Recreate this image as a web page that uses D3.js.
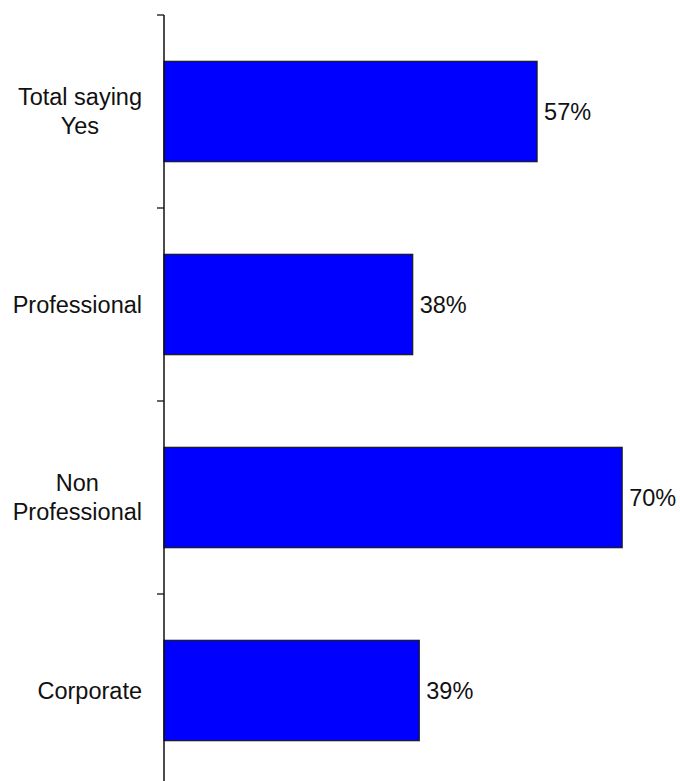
<!DOCTYPE html>
<html>
<head>
<meta charset="utf-8">
<script src="https://cdn.jsdelivr.net/npm/d3@7"></script>
<style>
  html, body { margin: 0; padding: 0; background: #fff; }
  svg { display: block; font-family: Arial, "Liberation Sans", sans-serif; }
</style>
</head>
<body>
<svg id="chart" width="680" height="781"></svg>
<script>
// Survey responses: share saying Yes, by group
const categories = ["Total saying\nYes", "Professional", "Non\nProfessional", "Corporate"];
const values = [57, 38, 70, 39];
const valueLabels = ["57%", "38%", "70%", "39%"];

const svg = d3.select("#chart");
const axisX = 164;
const plotTop = 15, step = 193;

const x = d3.scaleLinear().domain([0, 100]).range([axisX, axisX + 654.5]);
const y = d3.scaleBand()
  .domain(categories)
  .range([plotTop, plotTop + step * categories.length])
  .paddingInner(0.48)
  .paddingOuter(0.24);

// category boundary ticks
const tickYs = d3.range(categories.length + 1).map(i => plotTop + i * step);
svg.append("g").selectAll("line")
  .data(tickYs)
  .join("line")
  .attr("x1", axisX - 7).attr("x2", axisX)
  .attr("y1", d => d).attr("y2", d => d)
  .attr("stroke", "#333").attr("stroke-width", 1.5);

// bars
svg.append("g").selectAll("rect")
  .data(categories)
  .join("rect")
  .attr("x", x(0))
  .attr("y", d => y(d))
  .attr("width", (d, i) => x(values[i]) - x(0))
  .attr("height", y.bandwidth())
  .attr("fill", "#0000ff")
  .attr("stroke", "#1a1a1a")
  .attr("stroke-width", 1.2);

// vertical axis line
svg.append("line")
  .attr("x1", axisX).attr("x2", axisX)
  .attr("y1", plotTop).attr("y2", 781)
  .attr("stroke", "#111").attr("stroke-width", 1.5);

// value labels
svg.append("g").selectAll("text")
  .data(categories)
  .join("text")
  .attr("x", (d, i) => x(values[i]) + 7)
  .attr("y", d => y(d) + y.bandwidth() / 2 + 8)
  .attr("font-size", 23.5)
  .attr("fill", "#111")
  .text((d, i) => valueLabels[i]);

// category labels, right-aligned block with centered lines
const lineH = 29;
const labelRight = 142;
categories.forEach(c => {
  const lines = c.split("\n");
  const cy = y(c) + y.bandwidth() / 2;
  const g = svg.append("g");
  const texts = lines.map((ln, j) => g.append("text")
    .attr("font-size", 23.5)
    .attr("fill", "#111")
    .attr("text-anchor", "middle")
    .attr("y", cy + 8 + (j - (lines.length - 1) / 2) * lineH)
    .text(ln));
  const maxW = d3.max(texts, t => t.node().getComputedTextLength());
  texts.forEach(t => t.attr("x", labelRight - maxW / 2));
});
</script>
</body>
</html>
